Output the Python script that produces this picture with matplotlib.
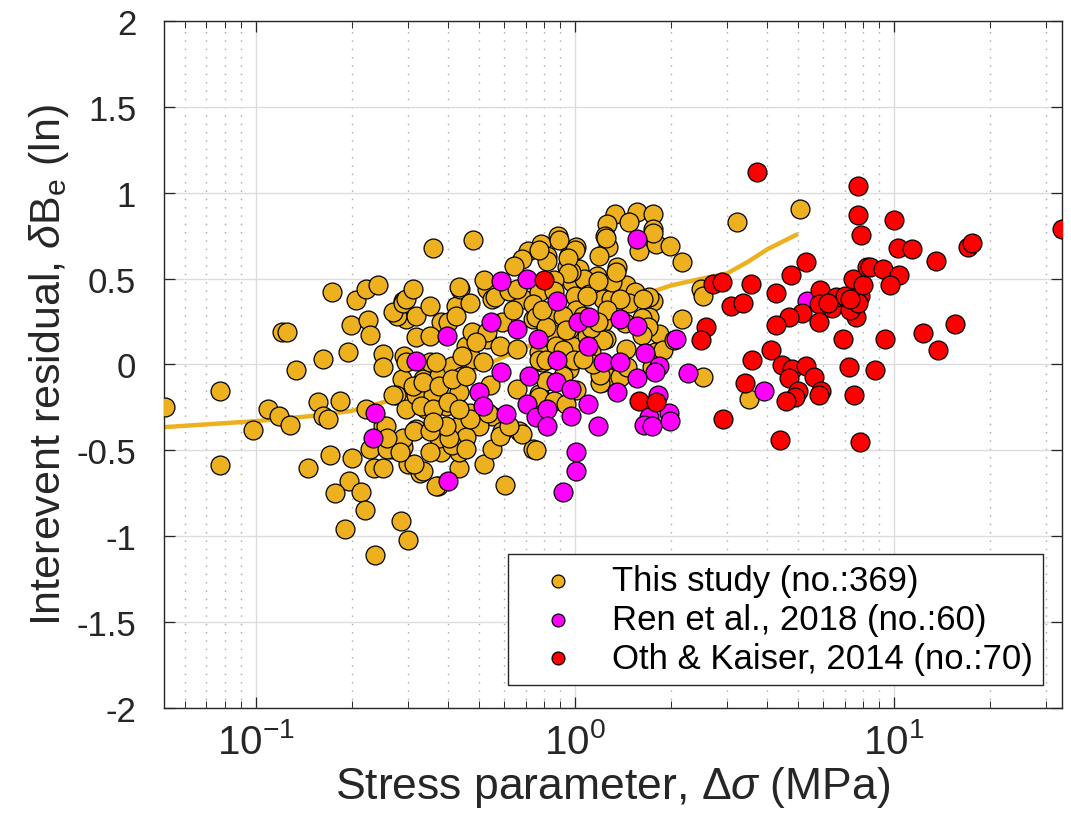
import numpy as np
import matplotlib
matplotlib.use("Agg")
import matplotlib.pyplot as plt
from matplotlib.ticker import FixedLocator, FixedFormatter, LogLocator, NullFormatter

plt.rcParams['font.family'] = ['Liberation Sans', 'DejaVu Sans']
plt.rcParams['mathtext.fontset'] = 'custom'
plt.rcParams['mathtext.rm'] = 'Liberation Sans'
plt.rcParams['mathtext.it'] = 'Liberation Sans:italic'
plt.rcParams['axes.unicode_minus'] = False

# ── DATA: (stress parameter [MPa], interevent residual) ──
this_study = [
    (0.052, -0.25), (0.077, -0.155), (0.077, -0.585), (0.121, 0.19), (0.125, 0.19),
    (0.134, -0.03), (0.098, -0.38), (0.109, -0.26), (0.118, -0.30), (0.128, -0.35),
    (0.162, 0.03), (0.173, 0.42), (0.156, -0.22), (0.162, -0.30), (0.168, -0.32),
    (0.183, -0.21), (0.194, 0.07), (0.198, 0.23), (0.206, 0.375), (0.222, 0.44),
    (0.242, 0.46), (0.224, 0.26), (0.227, 0.17), (0.171, -0.53), (0.20, -0.545),
    (0.146, -0.60), (0.196, -0.68), (0.177, -0.75), (0.213, -0.74), (0.219, -0.85),
    (0.19, -0.96), (0.237, -1.11), (0.284, -0.91), (0.30, -1.02), (0.25, 0.06),
    (0.25, -0.015), (0.222, -0.26), (0.25, -0.36), (0.227, -0.49), (0.235, -0.60),
    (0.25, -0.60), (0.266, -0.49), (0.286, -0.47), (0.30, -0.58),
    (0.288, 0.37), (0.295, 0.265), (0.277, 0.28), (0.292, 0.05), (0.286, -0.085),
    (0.275, -0.18),
    (0.605, -0.70), (0.52, -0.58), (0.55, -0.49), (0.371, -0.71), (0.326, -0.63),
    (0.335, -0.62), (0.314, -0.58), (0.434, -0.60), (0.38, -0.51), (0.288, -0.48),
    (0.258, -0.49),
    (0.268, 0.305), (0.29, 0.36), (0.296, 0.38), (0.31, 0.44), (0.318, 0.28),
    (0.35, 0.34), (0.38, 0.25), (0.425, 0.34), (0.435, 0.44), (0.468, 0.36),
    (0.53, 0.44), (0.55, 0.38), (0.53, 0.15), (0.59, 0.25), (0.456, 0.11),
    (0.477, 0.19), (0.686, 0.38), (0.736, 0.265), (0.296, 0.015), (0.333, -0.085),
    (0.35, 0.015), (0.376, -0.065), (0.413, -0.01), (0.444, -0.065), (0.477, 0.03),
    (0.268, -0.18), (0.296, -0.26), (0.318, -0.18), (0.342, -0.26), (0.358, -0.18),
    (0.395, -0.24), (0.434, -0.16), (0.468, -0.28), (0.54, -0.12), (0.55, -0.30),
    (0.656, -0.14), (0.67, -0.39), (0.736, -0.49), (0.59, -0.39), (0.50, -0.36),
    (0.434, -0.36), (0.456, -0.42), (0.376, -0.43), (0.35, -0.51), (0.318, -0.375),
    (0.288, -0.43), (0.282, -0.51), (0.256, -0.36), (0.258, -0.43), (0.434, -0.51),
    (0.413, -0.47),
    (0.36, 0.68), (0.48, 0.725), (0.887, 0.75), (0.785, 0.70), (0.96, 0.64),
    (0.71, 0.66), (0.82, 0.63), (0.68, 0.615), (0.646, 0.575), (0.947, 0.57),
    (0.52, 0.49), (0.434, 0.45), (0.40, 0.25), (0.425, 0.28), (0.318, 0.16),
    (0.35, 0.165), (0.56, 0.39), (0.623, 0.43), (0.66, 0.44), (0.774, 0.42),
    (0.736, 0.35), (0.875, 0.28), (0.94, 0.28), (0.757, 0.275), (0.637, 0.32),
    (0.53, 0.19), (0.49, 0.13), (0.58, 0.11), (0.656, 0.09), (0.774, 0.07),
    (0.875, 0.11), (0.98, 0.11), (0.444, 0.05), (0.368, 0.015), (0.513, 0.015),
    (0.79, 0.015), (0.96, -0.025),
    (0.757, -0.50), (0.58, -0.415), (0.68, -0.405), (0.368, -0.71), (0.404, -0.43),
    (0.456, -0.49), (0.395, -0.36), (0.314, -0.39), (0.468, -0.32), (0.623, -0.36),
    (0.532, -0.28), (0.774, -0.17), (0.31, -0.125), (0.333, -0.10), (0.376, -0.125),
    (0.413, -0.085), (0.456, -0.07), (0.33, -0.24), (0.36, -0.26), (0.40, -0.22),
    (0.434, -0.26), (0.35, -0.39), (0.36, -0.335),
    (3.21, 0.83), (1.33, 0.875), (1.57, 0.89), (1.75, 0.875), (1.75, 0.79),
    (1.26, 0.82), (1.48, 0.83), (1.24, 0.75), (1.59, 0.66), (1.80, 0.70),
    (1.98, 0.69), (2.17, 0.595), (1.27, 0.685), (1.19, 0.63), (1.01, 0.685),
    (0.975, 0.645), (1.35, 0.57), (1.17, 0.515), (1.03, 0.555), (0.98, 0.48),
    (1.07, 0.50), (1.45, 0.46), (1.54, 0.42), (1.0, 0.40), (1.11, 0.41),
    (1.22, 0.38), (1.30, 0.38), (1.48, 0.36), (1.75, 0.37), (2.49, 0.44),
    (2.51, 0.40), (2.17, 0.265), (1.84, 0.18), (1.19, 0.19), (1.09, 0.165),
    (0.96, 0.205), (1.45, 0.09), (1.71, 0.275), (1.31, 0.48), (1.71, 0.39),
    (1.63, 0.38), (1.22, 0.245), (1.25, 0.15), (1.01, 0.32), (0.975, 0.54),
    (2.52, -0.075), (3.5, -0.20), (1.22, -0.10), (1.35, -0.085), (5.09, 0.905),
    (1.25, 0.735), (1.76, 0.765), (1.34, 0.54), (0.89, 0.725), (1.0, 0.665),
    (0.95, 0.62), (0.82, 0.60), (0.77, 0.665), (0.95, 0.53), (1.18, 0.485),
    (0.86, 0.49), (1.78, 0.07), (1.22, 0.14), (1.12, 0.075), (1.22, -0.04),
    (1.26, -0.075), (1.38, -0.075), (1.20, -0.11), (1.01, -0.15), (0.92, -0.07),
    (0.81, -0.095), (0.77, -0.19), (0.86, -0.21), (0.94, -0.23), (1.38, 0.38),
    (1.09, 0.40), (1.26, 0.32), (1.06, 0.28), (0.92, 0.28), (0.81, 0.22),
    (0.94, 0.20), (0.77, 0.025), (0.81, 0.025), (0.92, 0.085), (0.99, 0.025),
    (1.12, 0.21), (1.18, 0.25), (1.43, 0.24), (1.62, 0.27), (1.69, 0.22),
    (1.62, 0.17), (1.89, 0.085), (2.04, 0.14), (1.74, -0.015), (1.46, -0.015),
    (1.20, -0.06), (1.14, 0.0), (1.06, 0.03), (0.79, 0.32), (0.86, 0.43),
]

ren_2018 = [
    (0.236, -0.28), (0.232, -0.43), (0.318, 0.02), (0.398, 0.165), (0.547, 0.25),
    (0.588, -0.045), (0.656, 0.205), (0.50, -0.16), (0.513, -0.24), (0.61, -0.29),
    (0.705, -0.23), (0.72, -0.065), (0.765, 0.15), (0.757, -0.305), (0.588, 0.485),
    (0.705, 0.50), (0.40, -0.68), (0.88, 0.37), (1.02, 0.245), (0.88, 0.025),
    (0.875, -0.10), (0.97, -0.145), (0.82, -0.26), (0.82, -0.36), (0.975, -0.30),
    (0.915, -0.74), (1.01, -0.51), (1.01, -0.62), (1.56, 0.73), (1.11, 0.275),
    (1.38, 0.265), (1.56, 0.225), (2.08, 0.15), (1.10, 0.11), (1.22, 0.015),
    (1.38, 0.015), (1.66, 0.065), (1.84, -0.01), (1.78, -0.045), (1.57, -0.08),
    (2.26, -0.05), (1.70, -0.305), (1.65, -0.35), (1.74, -0.36), (1.97, -0.28),
    (1.98, -0.33), (1.82, -0.18), (1.35, -0.16), (1.10, -0.23), (1.18, -0.36),
    (5.35, 0.37), (3.9, -0.155),
]

oth_kaiser_2014 = [
    (0.80, 0.49), (1.59, -0.21), (1.80, -0.22), (2.70, 0.47), (2.88, 0.48),
    (3.09, 0.34), (3.36, 0.36), (3.55, 0.47), (2.58, 0.22), (2.49, 0.14),
    (2.90, -0.32), (3.40, -0.11), (3.71, 1.12), (7.69, 1.04), (7.69, 0.87),
    (7.85, 0.755), (10.0, 0.84), (33.5, 0.79), (10.3, 0.68), (11.4, 0.67),
    (17.0, 0.685), (17.5, 0.705), (13.5, 0.60), (5.31, 0.595), (4.77, 0.52),
    (4.28, 0.415), (5.88, 0.435), (5.8, 0.35), (5.13, 0.30), (4.70, 0.275),
    (4.28, 0.23), (5.8, 0.245), (6.41, 0.33), (6.59, 0.39), (7.0, 0.40),
    (7.42, 0.50), (7.8, 0.40), (7.98, 0.46), (8.2, 0.57), (8.4, 0.57),
    (9.2, 0.555), (10.4, 0.52), (9.7, 0.46), (7.6, 0.275), (7.25, 0.32),
    (7.7, 0.36), (6.9, 0.15), (9.4, 0.15), (12.3, 0.185), (15.5, 0.235),
    (13.7, 0.085), (4.1, 0.085), (3.6, 0.025), (4.47, -0.005), (4.8, -0.025),
    (5.3, -0.01), (4.67, -0.08), (5.6, -0.075), (7.2, -0.015), (8.7, -0.03),
    (5.0, -0.155), (4.9, -0.19), (4.6, -0.21), (5.9, -0.155), (5.8, -0.18),
    (7.5, -0.18), (4.4, -0.44), (7.8, -0.45), (7.3, 0.38), (6.2, 0.36),
]

# binned trend of this study
trend_stress = [0.0515, 0.1, 0.15, 0.2, 0.3, 0.4, 0.5, 0.7, 1.0, 1.3, 1.6, 2.0, 2.5, 3.0, 3.5, 4.0, 5.0]
trend_resid = [-0.365, -0.33, -0.30, -0.27, -0.18, -0.10, -0.02, 0.10, 0.22, 0.32, 0.40, 0.46, 0.50, 0.53, 0.60, 0.67, 0.76]

labels = ['This study (no.:369)', 'Ren et al., 2018 (no.:60)', 'Oth & Kaiser, 2014 (no.:70)']
colors = ['#EDB120', '#FF00FF', '#FF0000']

# ── PLOT ─────────────────────────────────────────────
fig = plt.figure(figsize=(10.71, 8.29), dpi=100)
ax = fig.add_axes([0.1531, 0.1448, 0.8385, 0.8287])

ax.plot(trend_stress, trend_resid, color='#EDB120', lw=3.2, solid_capstyle='butt', zorder=2)

for pts, c, lab in zip([this_study, ren_2018, oth_kaiser_2014], colors, labels):
    arr = np.array(pts)
    ax.scatter(arr[:, 0], arr[:, 1], s=185, c=c, edgecolors='black', linewidths=0.9,
               label=lab, zorder=3)

ax.set_xscale('log')
ax.set_xlim(0.0515, 33.6)
ax.set_ylim(-2, 2)

yt = [-2, -1.5, -1, -0.5, 0, 0.5, 1, 1.5, 2]
ax.yaxis.set_major_locator(FixedLocator(yt))
ax.yaxis.set_major_formatter(FixedFormatter(['%g' % v for v in yt]))
ax.xaxis.set_major_locator(FixedLocator([0.1, 1, 10]))
ax.xaxis.set_major_formatter(FixedFormatter([r'$\mathregular{10^{-1}}$', r'$\mathregular{10^{0}}$',
                                             r'$\mathregular{10^{1}}$']))
ax.xaxis.set_minor_locator(LogLocator(base=10, subs=np.arange(2, 10), numticks=20))
ax.xaxis.set_minor_formatter(NullFormatter())

ax.tick_params(which='both', direction='in', top=True, right=True, colors='#262626',
               labelcolor='#262626')
ax.tick_params(which='major', length=8, width=0.9)
ax.tick_params(which='minor', length=5, width=0.7)
ax.tick_params(axis='y', labelsize=25, pad=20)
ax.tick_params(axis='x', labelsize=29, pad=10)

ax.grid(which='major', color='#DCDCDC', lw=1.0, zorder=0)
ax.grid(which='minor', axis='x', color='#A8A8A8', lw=1.0, ls=(0, (1, 5)), zorder=0)
ax.set_axisbelow(True)
for sp in ax.spines.values():
    sp.set_color('#262626')
    sp.set_linewidth(1.0)

ax.set_xlabel(r'Stress parameter, $\Delta\sigma$ (MPa)', fontsize=32, color='#262626', labelpad=2)
ax.set_ylabel(r'Interevent residual, $\delta$B$_\mathregular{e}$ (ln)', fontsize=31,
              color='#262626', labelpad=4)

leg = ax.legend(loc='lower right', bbox_to_anchor=(0.979, 0.0335), borderaxespad=0,
                fontsize=25, markerscale=0.68, handlelength=2.3, handletextpad=0.4,
                labelspacing=0.16, borderpad=0.3, fancybox=False, framealpha=1)
leg.get_frame().set_edgecolor('#262626')
leg.get_frame().set_linewidth(1.0)

fig.savefig('out.png', dpi=100)
